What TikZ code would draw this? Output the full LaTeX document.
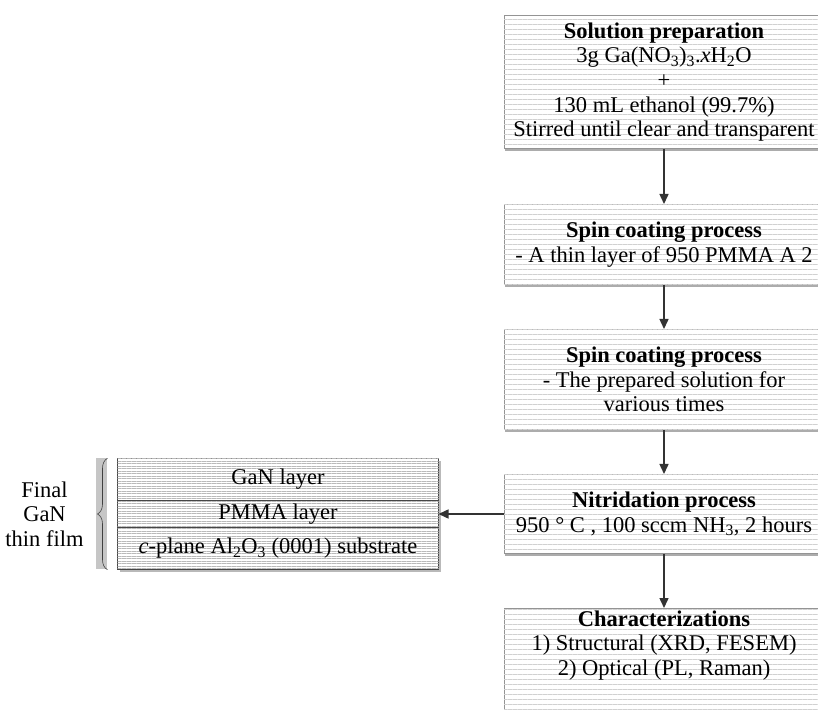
\documentclass[tikz,border=0pt]{standalone}
\usepackage{fontspec}
\setmainfont{Liberation Serif}
\usepackage{tikz}
\definecolor{linecolor}{rgb}{0.2, 0.2, 0.2}
\definecolor{bordercolor}{rgb}{0.58, 0.58, 0.58}
\definecolor{stripecolor}{rgb}{0.82, 0.82, 0.82}
\usetikzlibrary{arrows.meta,positioning,patterns.meta,shadows,decorations.pathreplacing}
\tikzset{
	block/.style={
		rectangle,
		draw=bordercolor,
		line width=1pt,
		fill=white,
		postaction={pattern={Lines[angle=0,distance=5pt,line width=0.8pt]},pattern color=stripecolor},
		drop shadow={shadow xshift=0.8pt,shadow yshift=-3pt,fill=gray!65,opacity=1},
		minimum width=320pt,
		inner sep=2pt,
		align=center
	},
	layer/.style={
		rectangle,
		draw=gray!55!black,
		line width=0.8pt,
		fill=white,
		postaction={pattern={Lines[angle=0,distance=2.5pt,line width=1pt]},pattern color=gray!55},
		drop shadow={shadow xshift=2pt,shadow yshift=-2.5pt,fill=gray!55,opacity=1},
		minimum width=321pt,
		outer sep=0pt,
		inner sep=1pt,
		align=center
	},
	bar/.style={
		rectangle,
		fill=gray!45,
		minimum width=11pt,
		minimum height=111pt,
		inner sep=0pt
	},
	brace/.style={
		draw=gray!50!black,
		line width=0.6pt,
		decorate,
		decoration={brace,mirror,amplitude=10pt}
	},
	arrow/.style={
		draw=linecolor,
		line width=1.5pt,
		-{Triangle[length=10pt,width=9pt]}
	},
}

\begin{document}
\begin{tikzpicture}[x=1pt,y=1pt,node distance=44pt,font=\fontsize{22.5}{24.6}\selectfont]
\useasboundingbox (0,0) rectangle (818,709);
\clip (0,0) rectangle (818,709);

% process column
\node [block,minimum height=133pt,anchor=north] (prep) at (664,694)
  {\textbf{Solution preparation}\\3g Ga(NO\textsubscript{3})\textsubscript{3}.\textit{x}H\textsubscript{2}O\\+\\130 mL ethanol (99.7\%)\\Stirred until clear and transparent};
\node [block,minimum height=80pt] (spin1) [below=55pt of prep]
  {\textbf{Spin coating process}\\- A thin layer of 950 PMMA A 2};
\node [block,minimum height=100pt] (spin2) [below=of spin1]
  {\textbf{Spin coating process}\\- The prepared solution for\\various times};
\node [block,minimum height=79pt] (nitr) [below=of spin2]
  {\textbf{Nitridation process}\\950 ° C , 100 sccm NH\textsubscript{3}, 2 hours};
\node [block,text depth=72pt] (charac) [below=54pt of nitr]
  {\textbf{Characterizations}\\1) Structural (XRD, FESEM)\\2) Optical (PL, Raman)};

% final film
\node [layer,minimum height=42pt] (gan) [left=65pt of nitr,yshift=34.5pt] {GaN layer};
\node [layer,minimum height=27pt] (pmma) [below=0pt of gan] {PMMA layer};
\node [layer,minimum height=42pt] (sub) [below=0pt of pmma] {\textit{c}-plane Al\textsubscript{2}O\textsubscript{3} (0001) substrate};
\node [bar] (bar) [left=10pt of pmma] {};
\draw [brace] (bar.north east) -- (bar.south east);
\node [align=center] (final) [left=9pt of bar] {Final\\GaN\\thin film};

\path
(prep) edge[arrow] (spin1)
(spin1) edge[arrow] (spin2)
(spin2) edge[arrow] (nitr)
(nitr) edge[arrow] (charac)
(nitr) edge[arrow] (pmma)
;
\end{tikzpicture}
\end{document}
